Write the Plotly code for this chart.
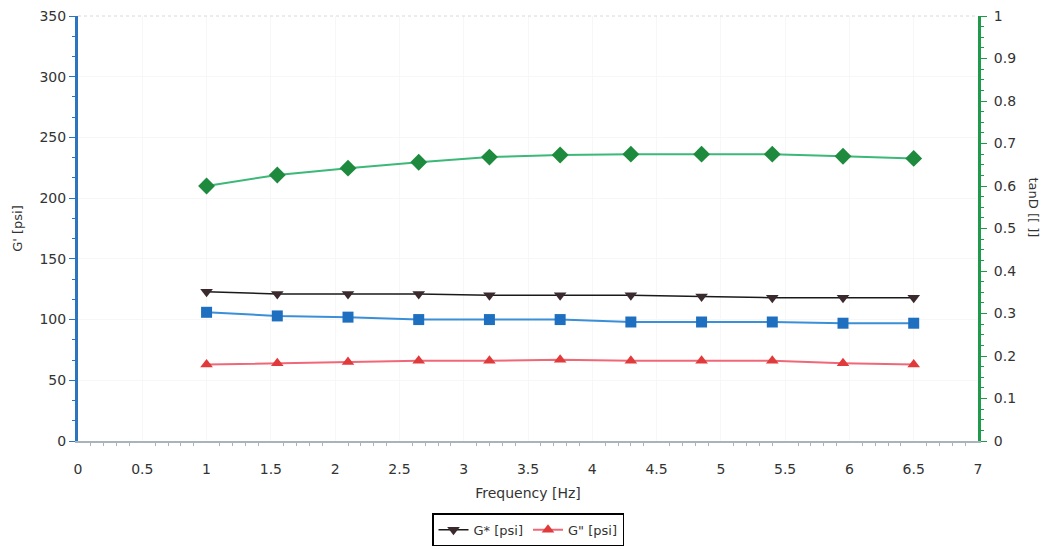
import plotly.graph_objects as go

freq = [1.0, 1.55, 2.1, 2.65, 3.2, 3.75, 4.3, 4.85, 5.4, 5.95, 6.5]
g_star = [123, 121, 121, 121, 120, 120, 120, 119, 118, 118, 118]
g_prime = [106, 103, 102, 100, 100, 100, 98, 98, 98, 97, 97]
g_dprime = [63, 64, 65, 66, 66, 67, 66, 66, 66, 64, 63]
tan_d = [0.60, 0.626, 0.642, 0.656, 0.668, 0.673, 0.675, 0.675, 0.675, 0.670, 0.665]

font = "DejaVu Sans"
tick_col = "#333333"

fig = go.Figure()
fig.add_trace(go.Scatter(x=freq, y=tan_d, name="tanD [[ ]]", yaxis="y2", mode="lines+markers",
                         line=dict(color="#3cb878", width=2),
                         marker=dict(symbol="diamond", size=13, color="#1e8a3e"), showlegend=False))
fig.add_trace(go.Scatter(x=freq, y=g_star, name="G* [psi]", mode="lines+markers",
                         line=dict(color="#1a1a1a", width=1.5),
                         marker=dict(symbol="triangle-down", size=11, color="#3a2a2e")))
fig.add_trace(go.Scatter(x=freq, y=g_prime, name="G' [psi]", mode="lines+markers",
                         line=dict(color="#3a8fd8", width=2),
                         marker=dict(symbol="square", size=11, color="#1f6fc0"), showlegend=False))
fig.add_trace(go.Scatter(x=freq, y=g_dprime, name="G\" [psi]", mode="lines+markers",
                         line=dict(color="#f06878", width=2),
                         marker=dict(symbol="triangle-up", size=11, color="#e03a3a")))

fig.update_layout(
    width=1053, height=549,
    margin=dict(l=78, r=75, t=16, b=108, autoexpand=False),
    paper_bgcolor="white", plot_bgcolor="white",
    font=dict(family=font, size=13, color=tick_col),
    xaxis=dict(range=[0, 7], dtick=0.5, tick0=0, showgrid=True, gridcolor="#f7f7f7",
               showline=True, linecolor="#a8b4bc", linewidth=2, automargin=False,
               ticks="", zeroline=False, ticklabelstandoff=14,
               tickfont=dict(size=14),
               minor=dict(ticks="outside", dtick=0.1, ticklen=3, tickcolor="#a8b4bc", showgrid=False),
               title=dict(text="Frequency [Hz]", font=dict(size=14), standoff=12),
               mirror=False),
    yaxis=dict(range=[0, 350], dtick=50, showgrid=True, gridcolor="#f7f7f7",
               showline=True, linecolor="#2a74c0", linewidth=3, automargin=False,
               ticks="outside", ticklen=6, tickcolor="#2a74c0", zeroline=False,
               tickfont=dict(size=14),
               minor=dict(ticks="outside", dtick=50/3, ticklen=3, tickcolor="#2a74c0", showgrid=False),
               title=dict(text="G' [psi]", font=dict(size=13), standoff=14)),
    yaxis2=dict(range=[0, 1], dtick=0.1, overlaying="y", side="right", showgrid=False,
                showline=True, linecolor="#1e9a4a", linewidth=3, automargin=False,
                ticks="outside", ticklen=6, tickcolor="#1e9a4a", zeroline=False,
                tickfont=dict(size=14), ticklabelstandoff=4,
                minor=dict(ticks="outside", dtick=0.025, ticklen=3, tickcolor="#1e9a4a"),
                tickformat="~g"),
    legend=dict(orientation="h", x=0.5, xanchor="center", y=-0.17, yanchor="top",
                bordercolor="black", borderwidth=1.5, font=dict(size=13), itemwidth=30,
                bgcolor="white"),
    shapes=[dict(type="line", xref="paper", yref="paper", x0=0, x1=1, y0=1, y1=1,
                 line=dict(color="#d8d8d8", width=1, dash="dot"))],
    annotations=[dict(text="tanD [[ ]]", xref="paper", yref="paper", x=1.062, y=0.55,
                      textangle=90, showarrow=False, font=dict(size=13, color=tick_col),
                      xanchor="center", yanchor="middle")],
)

fig.write_html("out.html")
